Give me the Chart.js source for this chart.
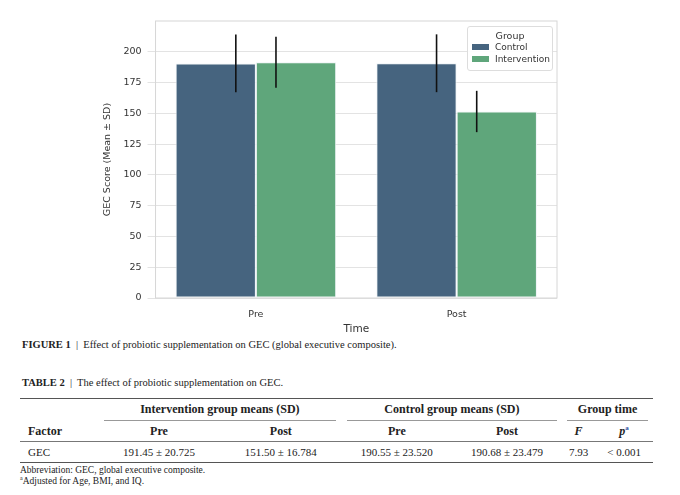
<!DOCTYPE html>
<html><head><meta charset="utf-8">
<script src="https://cdn.jsdelivr.net/npm/chart.js@4"></script>
<style>
body{margin:0;background:#fff;width:680px;height:495px;overflow:hidden;font-family:"Liberation Serif",serif;color:#222}
#wrap{position:relative;width:680px;height:336px}
#legend{position:absolute;left:467px;top:26px;width:84px;height:43px;border:1px solid #ddd;border-radius:3px;background:rgba(255,255,255,0.9);font-family:"DejaVu Sans",sans-serif;font-size:9px;color:#333}
#legend .t{text-align:center;margin-top:3px;font-size:9.5px}
#legend .r{display:flex;align-items:center;margin-left:4px;height:12px}
#legend .s{width:17px;height:6px;margin-right:6px}
.cap{position:absolute;left:22px;font-size:10.5px}
table{position:absolute;left:20px;top:398px;width:633px;border-collapse:collapse;font-size:11px;border-top:1.5px solid #555;border-bottom:1.5px solid #555}
td,th{text-align:center;padding:0}
.h1 th{font-weight:bold;height:22px;font-size:12px}
.h2 th{font-weight:bold;height:20px;font-size:12px}
.d td{height:20px;border-top:1px solid #777}
</style></head><body>
<div id="wrap"><canvas id="c" width="680" height="336"></canvas>
<div id="legend"><div class="t">Group</div>
<div class="r"><div class="s" style="background:#46647f"></div>Control</div>
<div class="r"><div class="s" style="background:#5fa67b"></div>Intervention</div></div></div>
<div class="cap" style="top:339px"><b>FIGURE 1</b> &nbsp;|&nbsp; Effect of probiotic supplementation on GEC (global executive composite).</div>
<div class="cap" style="top:377px"><b>TABLE 2</b> &nbsp;|&nbsp; The effect of probiotic supplementation on GEC.</div>
<table>
<tr class="h1"><th></th><th colspan="2"><span style="display:inline-block;width:95%;border-bottom:1px solid #999;padding-bottom:3px;margin-top:3px">Intervention group means (SD)</span></th><th colspan="2"><span style="display:inline-block;width:95%;border-bottom:1px solid #999;padding-bottom:3px;margin-top:3px">Control group means (SD)</span></th><th colspan="2"><span style="display:inline-block;width:90%;border-bottom:1px solid #999;padding-bottom:3px;margin-top:3px">Group time</span></th></tr>
<tr class="h2"><th style="text-align:left;padding-left:8px;width:70px">Factor</th><th>Pre</th><th>Post</th><th>Pre</th><th>Post</th><th><i>F</i></th><th><i>p</i><sup style="color:#2a4fa0;font-size:7px">a</sup></th></tr>
<tr class="d"><td style="text-align:left;padding-left:8px">GEC</td><td>191.45 ± 20.725</td><td>151.50 ± 16.784</td><td>190.55 ± 23.520</td><td>190.68 ± 23.479</td><td>7.93</td><td>&lt; 0.001</td></tr>
</table>
<div class="cap" style="top:465px;font-size:9.5px;left:20px">Abbreviation: GEC, global executive composite.<br><sup style="font-size:6px">a</sup>Adjusted for Age, BMI, and IQ.</div>
<script>
const categories=["Pre","Post"];
const controlMeans=[190.55,190.68];
const controlSD=[23.520,23.479];
const interventionMeans=[191.45,151.50];
const interventionSD=[20.725,16.784];
const yTicks=[0,25,50,75,100,125,150,175,200];
const sds=[controlSD,interventionSD];
const errPlugin={id:'err',afterDatasetsDraw(ch){
 const ctx=ch.ctx,y=ch.scales.y;
 ch.data.datasets.forEach((ds,i)=>{
  ch.getDatasetMeta(i).data.forEach((b,j)=>{
   const x=b.x+(i===0?1:-1)*b.width/4, m=ds.data[j], s=sds[i][j];
   ctx.save();ctx.strokeStyle='#111';ctx.lineWidth=1.6;ctx.beginPath();
   ctx.moveTo(x,y.getPixelForValue(m-s));ctx.lineTo(x,y.getPixelForValue(m+s));ctx.stroke();ctx.restore();
  });
 });
}};
const border={id:'bd',afterDraw(ch){const a=ch.chartArea,c=ch.ctx;c.save();c.strokeStyle='#d6d6d6';c.lineWidth=1;c.strokeRect(a.left,a.top,a.right-a.left,a.bottom-a.top);c.restore();}};
new Chart(document.getElementById('c'),{type:'bar',
data:{labels:categories,datasets:[
 {label:'Control',data:controlMeans,backgroundColor:'#46647f',borderColor:'#eef3f6',borderWidth:1,borderSkipped:false},
 {label:'Intervention',data:interventionMeans,backgroundColor:'#5fa67b',borderColor:'#eef3f6',borderWidth:1,borderSkipped:false}]},
options:{responsive:false,animation:false,layout:{padding:{left:98,right:123,top:21,bottom:0}},
 plugins:{legend:{display:false},tooltip:{enabled:false}},
 datasets:{bar:{categoryPercentage:0.8,barPercentage:1}},
 scales:{
  x:{grid:{display:false},border:{display:false},ticks:{color:'#333',font:{family:'DejaVu Sans',size:9.5},padding:3},
     title:{display:true,text:'Time',color:'#333',font:{family:'DejaVu Sans',size:10.5},padding:{top:0,bottom:0}}},
  y:{min:0,max:225,afterBuildTicks(a){a.ticks=yTicks.map(v=>({value:v}));},
     grid:{color:'#e3e3e3'},border:{display:false},ticks:{color:'#333',font:{family:'DejaVu Sans',size:9.5},padding:6},
     title:{display:true,text:'GEC Score (Mean ± SD)',color:'#333',font:{family:'DejaVu Sans',size:9.5}}}}},
plugins:[errPlugin,border]});
</script></body></html>
